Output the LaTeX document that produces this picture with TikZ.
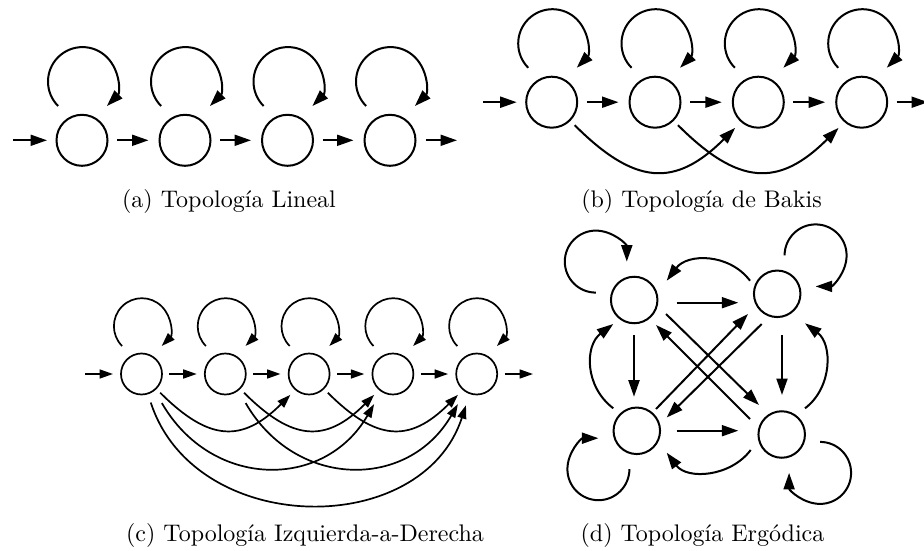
\documentclass[tikz,border=0pt]{standalone}
\usepackage{fontspec}
\usetikzlibrary{arrows.meta,calc}
\begin{document}
\begin{tikzpicture}[x=1pt,y=1pt,
  state/.style={circle,draw,line width=2pt,minimum size=51pt,inner sep=0pt,outer sep=0pt},
  smallstate/.style={state,line width=1.7pt,minimum size=41pt},
  ergstate/.style={state,minimum size=46.5pt},
  arrA/.style={line width=2pt,-{Triangle[length=16.5pt,width=11pt]}},
  arrC/.style={line width=1.7pt,-{Triangle[length=13.5pt,width=9pt]}},
  caption/.style={font=\fontsize{10}{12}\selectfont,scale=2.4,anchor=base,inner sep=0pt},
]
\useasboundingbox (0,0) rectangle (924,550);

% ---------- (a) linear chain ----------
\foreach \i/\x in {1/82,2/185,3/287.5,4/390}
  \node[state] (a\i) at (\x,409.7) {};
\coordinate (ain) at (13,409.7);
\coordinate (aout) at (457,409.7);
\draw[arrA,shorten >=9.5pt] (ain) -- (a1);
\foreach \i/\j in {1/2,2/3,3/4}
  \draw[arrA,shorten <=9.5pt,shorten >=11pt] (a\i) -- (a\j);
\draw[arrA,shorten <=10pt] (a4) -- (aout);
\foreach \i in {1,...,4}
  \draw[arrA] ($(a\i)+(0.5,58.7)+(225:34.5)$) arc[start angle=225,end angle=-45,radius=34.5];
\node[caption] (capa) at (229,342) {(a) Topología Lineal};

% ---------- (b) Bakis ----------
\foreach \i/\x in {1/551.7,2/655,3/758.3,4/861.7}
  \node[state] (b\i) at (\x,447.8) {};
\coordinate (bin) at (483,447.8);
\coordinate (bout) at (928,447.8);
\draw[arrA,shorten >=9.5pt] (bin) -- (b1);
\foreach \i/\j in {1/2,2/3,3/4}
  \draw[arrA,shorten <=9.5pt,shorten >=11pt] (b\i) -- (b\j);
\draw[arrA,shorten <=9.5pt] (b4) -- (bout);
\foreach \i in {1,...,4}
  \draw[arrA] ($(b\i)+(0.8,58.7)+(225:34.3)$) arc[start angle=225,end angle=-45,radius=34.3];
\foreach \i/\j in {1/3,2/4}
  \draw[arrA] ($(b\i)+(-45:32.5)$) .. controls +(-45:85) and +(225:85) .. ($(b\j)+(228:34.5)$);
\node[caption] (capb) at (701.5,342) {(b) Topología de Bakis};

% ---------- (c) left-to-right ----------
\foreach \i/\x in {1/141.5,2/225.3,3/309.1,4/392.9,5/476.7}
  \node[smallstate] (c\i) at (\x,176) {};
\coordinate (cin) at (85,176);
\coordinate (cout) at (533,176);
\draw[arrC,shorten >=8pt] (cin) -- (c1);
\foreach \i/\j in {1/2,2/3,3/4,4/5}
  \draw[arrC,shorten <=7.3pt,shorten >=8.1pt] (c\i) -- (c\j);
\draw[arrC,shorten <=7.5pt] (c5) -- (cout);
\foreach \i in {1,...,5}
  \draw[arrC] ($(c\i)+(0.4,47.8)+(225:28)$) arc[start angle=225,end angle=-45,radius=28];
\foreach \i/\j in {1/3,2/4,3/5}
  \draw[arrC] ($(c\i)+(-45:26.5)$) .. controls +(-45:68.5) and +(225:68.5) .. ($(c\j)+(228:28)$);
\foreach \i/\j in {1/4,2/5}
  \draw[arrC] ($(c\i)+(-55:35.5)$) .. controls +(-60:99.6) and +(240:99.6) .. ($(c\j)+(238:35.5)$);
\draw[arrC] ($(c1)+(-72:30)$) .. controls +(-72:141.7) and +(252:141.7) .. ($(c5)+(251:33)$);
\node[caption] (capc) at (305,9) {(c) Topología Izquierda-a-Derecha};

% ---------- (d) ergodic ----------
\node[ergstate] (TL) at (634.2,250) {};
\node[ergstate] (TR) at (777.2,256.2) {};
\node[ergstate] (BL) at (636.8,119.2) {};
\node[ergstate] (BR) at (781.7,115.5) {};
% straight transitions
\draw[arrA] ($(TL)+(42.5,-2.7)$) -- ($(TR)+(-38.9,-8.9)$);
\draw[arrA] ($(TL)+(-0.2,-35)$) -- ($(BL)+(-2.8,34.1)$);
\draw[arrA] ($(TR)+(4.8,-41.2)$) -- ($(BR)+(0.3,39.5)$);
\draw[arrA] ($(BL)+(39.9,0.1)$) -- ($(BR)+(-43.4,3.8)$);
\draw[arrA] ($(TL)+(31.8,-14)$) -- ($(BR)+(-22.7,29.5)$);
\draw[arrA] ($(BR)+(-31.7,15.5)$) -- ($(TL)+(21.8,-25)$);
\draw[arrA] ($(BL)+(19.2,21.8)$) -- ($(TR)+(-29.2,-20.2)$);
\draw[arrA] ($(TR)+(-15.5,-30.2)$) -- ($(BL)+(29.9,13.3)$);
% curved transitions along the sides
\draw[arrA] ($(TR)+(-27.2,13.1)$) .. controls +(127:34.5) and +(53:34.5) .. ($(TL)+(32.5,19.3)$);
\draw[arrA] ($(BR)+(-31,-15.5)$) .. controls +(233:34) and +(-53:34) .. ($(BL)+(29.9,-21.9)$);
\draw[arrA] ($(BL)+(-23.5,22.5)$) .. controls +(143:36) and +(217:36) .. ($(TL)+(-20.9,-24)$);
\draw[arrA] ($(BR)+(23.3,26.2)$) .. controls +(37:34.5) and +(-37:34.5) .. ($(TR)+(27.8,-29.5)$);
% self transitions
\draw[arrA] ($(TL)+(135:54.3)+(270:31)$) arc[start angle=270,end angle=0,radius=31];
\draw[arrA] ($(TR)+(45:54.3)+(180:31)$) arc[start angle=180,end angle=-90,radius=31];
\draw[arrA] ($(BL)+(225:54.3)+(0:31)$) arc[start angle=0,end angle=-270,radius=31];
\draw[arrA] ($(BR)+(-45:54.3)+(90:31)$) arc[start angle=90,end angle=-180,radius=31];
\node[caption] (capd) at (702.5,9) {(d) Topología Ergódica};
\end{tikzpicture}
\end{document}
